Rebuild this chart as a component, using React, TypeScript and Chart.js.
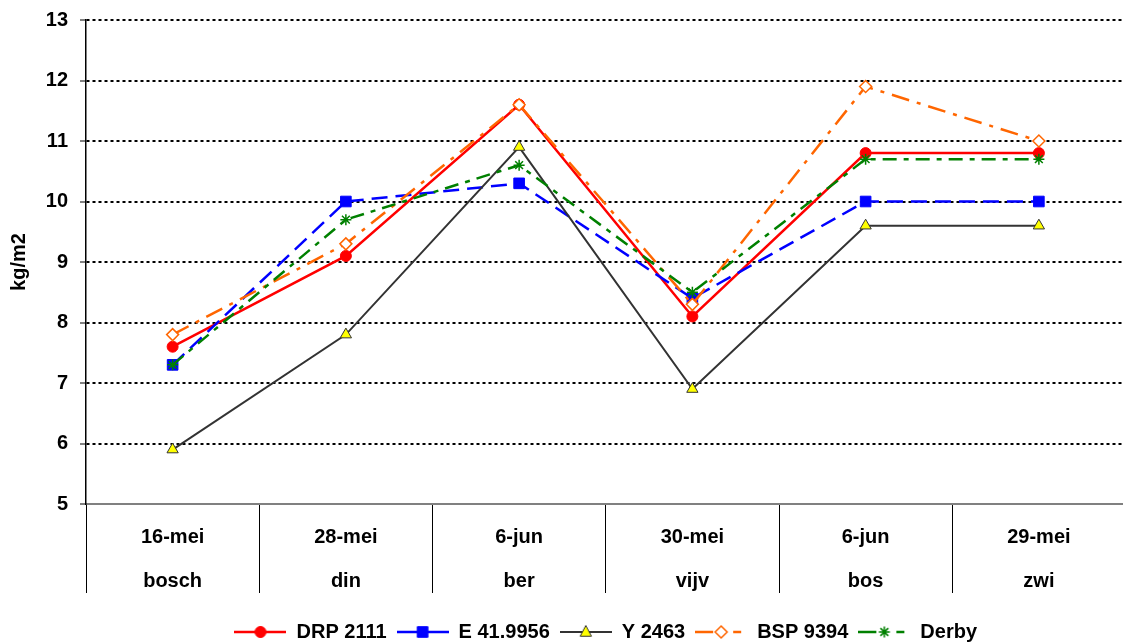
import React, { useEffect, useRef } from "react";
import { Chart, registerables } from "chart.js";

Chart.register(...registerables);

const dates = ["16-mei", "28-mei", "6-jun", "30-mei", "6-jun", "29-mei"];
const sites = ["bosch", "din", "ber", "vijv", "bos", "zwi"];

const drp2111 = [7.6, 9.1, 11.6, 8.1, 10.8, 10.8];
const e419956 = [7.3, 10.0, 10.3, 8.4, 10.0, 10.0];
const y2463 = [5.9, 7.8, 10.9, 6.9, 9.6, 9.6];
const bsp9394 = [7.8, 9.3, 11.6, 8.3, 11.9, 11.0];
const derby = [7.3, 9.7, 10.6, 8.5, 10.7, 10.7];

const seriesNames = ["DRP 2111", "E 41.9956", "Y 2463", "BSP 9394", "Derby"];

const yMin = 5;
const yMax = 13;
const yStep = 1;
const yTitle = "kg/m2";

const FONT = "'Liberation Sans', Arial, sans-serif";

type Style = {
  color: string;
  dash: number[];
  iconDash: number[];
  width: number;
  marker: string;
  radius: number;
  fill: string;
  stroke: string;
  markerBorder: number;
};

const styles: Style[] = [
  { color: "#FF0000", dash: [], iconDash: [], width: 2.5, marker: "circle", radius: 5.5, fill: "#FF0000", stroke: "#FF0000", markerBorder: 1 },
  { color: "#0000FF", dash: [16, 8], iconDash: [], width: 2.5, marker: "rect", radius: 7.5, fill: "#0000FF", stroke: "#0000FF", markerBorder: 1 },
  { color: "#333333", dash: [], iconDash: [], width: 2, marker: "triangle", radius: 6.5, fill: "#FFFF00", stroke: "#333333", markerBorder: 1 },
  { color: "#FF6600", dash: [18, 8, 4, 8], iconDash: [1], width: 2.5, marker: "rectRot", radius: 6, fill: "#FFFFFF", stroke: "#FF6600", markerBorder: 1.5 },
  { color: "#008000", dash: [14, 7, 5, 7], iconDash: [1], width: 2.5, marker: "star", radius: 5.5, fill: "#008000", stroke: "#008000", markerBorder: 1.5 },
];

const ICON_W = 52;

function makeIcon(s: Style): HTMLCanvasElement {
  const c = document.createElement("canvas");
  c.width = ICON_W;
  c.height = 18;
  const g = c.getContext("2d")!;
  const cy = 9;
  const cx = ICON_W / 2;
  g.strokeStyle = s.color;
  g.lineWidth = s.width;
  g.beginPath();
  if (s.iconDash.length) {
    g.moveTo(0, cy);
    g.lineTo(18, cy);
    g.moveTo(38, cy);
    g.lineTo(46, cy);
  } else {
    g.moveTo(0, cy);
    g.lineTo(ICON_W, cy);
  }
  g.stroke();
  g.fillStyle = s.fill;
  g.strokeStyle = s.stroke;
  g.lineWidth = s.markerBorder;
  const r = s.radius;
  g.beginPath();
  if (s.marker === "circle") {
    g.arc(cx, cy, r, 0, Math.PI * 2);
    g.fill();
    g.stroke();
  } else if (s.marker === "rect") {
    const h = r * Math.SQRT1_2;
    g.rect(cx - h, cy - h, 2 * h, 2 * h);
    g.fill();
    g.stroke();
  } else if (s.marker === "triangle") {
    g.moveTo(cx, cy - r);
    g.lineTo(cx + r * 0.866, cy + r * 0.5 + 1);
    g.lineTo(cx - r * 0.866, cy + r * 0.5 + 1);
    g.closePath();
    g.fill();
    g.stroke();
  } else if (s.marker === "rectRot") {
    g.moveTo(cx, cy - r);
    g.lineTo(cx + r, cy);
    g.lineTo(cx, cy + r);
    g.lineTo(cx - r, cy);
    g.closePath();
    g.fill();
    g.stroke();
  } else if (s.marker === "star") {
    g.moveTo(cx - r, cy);
    g.lineTo(cx + r, cy);
    g.moveTo(cx, cy - r);
    g.lineTo(cx, cy + r);
    const d = r * Math.SQRT1_2;
    g.moveTo(cx - d, cy - d);
    g.lineTo(cx + d, cy + d);
    g.moveTo(cx - d, cy + d);
    g.lineTo(cx + d, cy - d);
    g.stroke();
  }
  return c;
}

export default function App() {
  const ref = useRef<HTMLCanvasElement | null>(null);

  useEffect(() => {
    if (!ref.current) return;
    const values = [drp2111, e419956, y2463, bsp9394, derby];
    const icons = styles.map(makeIcon);
    const labels = dates.map((d, i) => [d, sites[i]]);

    const chart = new Chart(ref.current, {
      type: "line",
      data: {
        labels,
        datasets: values.map((v, i) => ({
          label: seriesNames[i],
          data: v,
          borderColor: styles[i].color,
          borderWidth: styles[i].width,
          borderDash: styles[i].dash,
          tension: 0,
          fill: false,
          pointStyle: styles[i].marker as any,
          pointRadius: styles[i].radius,
          pointHoverRadius: styles[i].radius,
          pointBackgroundColor: styles[i].fill,
          pointBorderColor: styles[i].stroke,
          pointBorderWidth: styles[i].markerBorder,
          order: 10 - i,
        })),
      },
      options: {
        animation: false,
        responsive: false,
        events: [],
        layout: { padding: { top: 20, left: 0, right: 0, bottom: 0 } },
        scales: {
          x: {
            type: "category",
            offset: true,
            afterFit: (scale: any) => {
              scale.height = 108;
              scale.paddingLeft = 0;
              scale.paddingRight = 0;
            },
            grid: {
              offset: true,
              drawOnChartArea: false,
              drawTicks: true,
              tickLength: 89,
              color: "#000000",
              lineWidth: 1,
            },
            border: { display: true, color: "#808080", width: 2 },
            ticks: {
              color: "#000000",
              padding: -78,
              maxRotation: 0,
              autoSkip: false,
              font: { family: FONT, size: 20, weight: "bold", lineHeight: 2.2 },
            },
          },
          y: {
            min: yMin,
            max: yMax,
            afterFit: (scale: any) => {
              scale.width = 86;
              scale.paddingTop = 0;
              scale.paddingBottom = 0;
            },
            ticks: {
              stepSize: yStep,
              color: "#000000",
              padding: 12,
              font: { family: FONT, size: 20, weight: "bold" },
            },
            grid: {
              color: (ctx: any) => (ctx.tick && ctx.tick.value === yMin ? "rgba(0,0,0,0)" : "#000000"),
              lineWidth: 2,
              tickLength: 6,
              tickColor: "#000000",
              tickWidth: 1,
              tickBorderDash: [],
            },
            border: { display: true, color: "#000000", width: 1.5, dash: [3, 3] },
            title: {
              display: true,
              text: yTitle,
              color: "#000000",
              padding: { top: 7, bottom: 4 },
              font: { family: FONT, size: 20, weight: "bold" },
            },
          },
        },
        plugins: {
          tooltip: { enabled: false },
          legend: {
            position: "bottom",
            fullSize: false,
            labels: {
              usePointStyle: true,
              pointStyleWidth: ICON_W,
              padding: 10,
              color: "#000000",
              font: { family: FONT, size: 20, weight: "bold" },
              generateLabels: () =>
                seriesNames.map((n, i) => ({
                  text: n,
                  pointStyle: icons[i] as any,
                  datasetIndex: i,
                  fillStyle: styles[i].color,
                  strokeStyle: styles[i].color,
                  lineWidth: 0,
                  hidden: false,
                  fontColor: "#000000",
                })),
            },
          },
        },
      } as any,
    });
    return () => chart.destroy();
  }, []);

  return (
    <div
      style={{
        position: "fixed",
        left: 0,
        top: 0,
        width: 1123,
        height: 642,
        overflow: "hidden",
        background: "#ffffff",
      }}
    >
      <canvas ref={ref} width={1134} height={652} />
    </div>
  );
}
